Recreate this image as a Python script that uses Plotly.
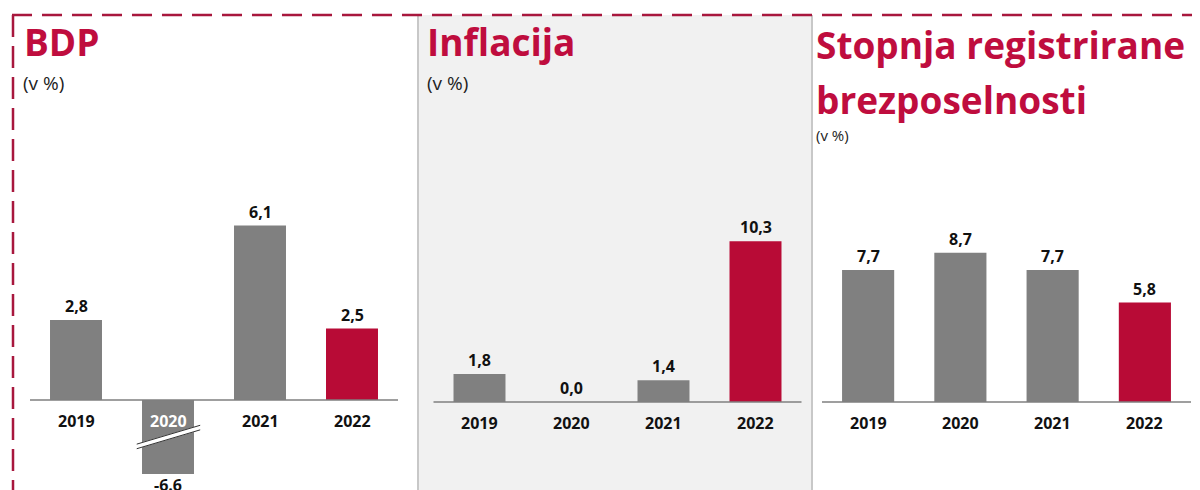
import plotly.graph_objects as go

# ---------------- data ----------------
years = ["2019", "2020", "2021", "2022"]
bdp_values = [2.8, -6.6, 6.1, 2.5]
bdp_labels = ["2,8", "-6.6", "6,1", "2,5"]
infl_values = [1.8, 0.0, 1.4, 10.3]
infl_labels = ["1,8", "0,0", "1,4", "10,3"]
unemp_values = [7.7, 8.7, 7.7, 5.8]
unemp_labels = ["7,7", "8,7", "7,7", "5,8"]

titles = ["BDP", "Inflacija", "Stopnja registrirane", "brezposelnosti"]
unit_label = "(v %)"

# ---------------- styles ----------------
W, H = 1200, 490
OFF = 8  # page body margin offset
GRAY = "#808080"
RED = "#b80b36"
TITLE_RED = "#bf0d3e"
DASH_RED = "#a8173d"
FONT = "Open Sans"
bar_colors = [GRAY, GRAY, GRAY, RED]


def py(p):
    return 1 - (p - OFF) / H


def px(p):
    return (p - OFF) / W


top_px, bot_px = 150, 474
panels = [
    # x-domain px, baseline px, px per unit
    dict(xd=(30, 398), base=400, ppu=28.6, vals=bdp_values, labs=bdp_labels),
    dict(xd=(433.5, 801.5), base=402, ppu=15.6, vals=infl_values, labs=infl_labels),
    dict(xd=(822, 1191), base=402, ppu=17.15, vals=unemp_values, labs=unemp_labels),
]

fig = go.Figure()
shapes = []
annotations = []

# background for middle panel
shapes.append(dict(type="rect", xref="paper", yref="paper", x0=px(418), x1=px(812),
                   y0=0, y1=py(15), fillcolor="#f1f1f1", line=dict(width=0), layer="below"))
for xb in (418, 812):
    shapes.append(dict(type="line", xref="paper", yref="paper", x0=px(xb), x1=px(xb),
                       y0=0, y1=py(15), line=dict(color="#c8c8c8", width=2), layer="below"))

lab_font = dict(family=FONT, size=16, color="#111", weight="bold")
for i, p in enumerate(panels):
    n = "" if i == 0 else str(i + 1)
    xa, ya = "x" + n, "y" + n
    rng = [-(bot_px - p["base"]) / p["ppu"], (p["base"] - top_px) / p["ppu"]]
    fig.add_trace(go.Bar(x=list(range(len(years))), y=p["vals"], marker_color=bar_colors,
                         marker_line_width=0, width=0.565, xaxis=xa, yaxis=ya,
                         showlegend=False, hoverinfo="skip"))
    fig.layout["xaxis" + n] = dict(domain=[px(p["xd"][0]), px(p["xd"][1])], range=[-0.5, 3.5],
                                    visible=False, anchor=ya, fixedrange=True)
    fig.layout["yaxis" + n] = dict(domain=[py(bot_px), py(top_px)], range=rng, visible=False,
                                    anchor=xa, fixedrange=True)
    # baseline
    shapes.append(dict(type="line", xref=xa + " domain", yref=ya, x0=0, x1=1, y0=0, y1=0,
                       line=dict(color="#7f7f7f", width=1.5)))
    for j, (v, lab) in enumerate(zip(p["vals"], p["labs"])):
        if v >= 0:
            annotations.append(dict(x=j, y=v, xref=xa, yref=ya, text=lab, showarrow=False,
                                    yanchor="bottom", yshift=1, font=lab_font))
            annotations.append(dict(x=j, y=0, xref=xa, yref=ya, text=years[j], showarrow=False,
                                    yanchor="top", yshift=-8, font=lab_font))
        else:
            # value is beyond the visible (broken) axis: label at clipped end
            annotations.append(dict(x=j, y=rng[0], xref=xa, yref=ya, text=lab, showarrow=False,
                                    yanchor="top", yshift=2, font=lab_font))
            annotations.append(dict(x=j, y=0, xref=xa, yref=ya, text=years[j], showarrow=False,
                                    yanchor="top", yshift=-8,
                                    font=dict(family=FONT, size=16, color="white", weight="bold")))
            # axis break marks
            y_mid = rng[0] * 0.5
            for off, col, wdt in ((0.0, "white", 5), (0.08, "#333", 1), (-0.08, "#333", 1)):
                shapes.append(dict(type="line", xref=xa, yref=ya,
                                   x0=j - 0.34, x1=j + 0.35,
                                   y0=y_mid - 0.33 + off, y1=y_mid + 0.33 + off,
                                   line=dict(color=col, width=wdt)))

# dashed border (top and left)
shapes.append(dict(type="line", xref="paper", yref="paper", x0=px(12), x1=1, y0=py(15), y1=py(15),
                   line=dict(color=DASH_RED, width=2.5, dash="20px,10px")))
shapes.append(dict(type="line", xref="paper", yref="paper", x0=px(13), x1=px(13), y0=py(15), y1=0,
                   line=dict(color=DASH_RED, width=2.5, dash="22px,9px")))

# titles
title_pos = [(22, 42), (425, 42), (814, 44), (814, 99)]
for t, (tx, ty) in zip(titles, title_pos):
    annotations.append(dict(x=px(tx), y=py(ty), xref="paper", yref="paper", text=t, showarrow=False,
                            xanchor="left", yanchor="middle",
                            font=dict(family=FONT, size=37, color=TITLE_RED, weight="bold")))
for (ux, uy, us) in [(21, 83, 19), (425, 83, 19), (814, 135, 15)]:
    annotations.append(dict(x=px(ux), y=py(uy), xref="paper", yref="paper", text=unit_label,
                            showarrow=False, xanchor="left", yanchor="middle",
                            font=dict(family=FONT, size=us, color="#222")))

fig.update_layout(width=W, height=H, margin=dict(l=0, r=0, t=0, b=0),
                  paper_bgcolor="white", plot_bgcolor="rgba(0,0,0,0)",
                  shapes=shapes, annotations=annotations, bargap=0.435)
fig.write_html("out.html", config={"displayModeBar": False})
